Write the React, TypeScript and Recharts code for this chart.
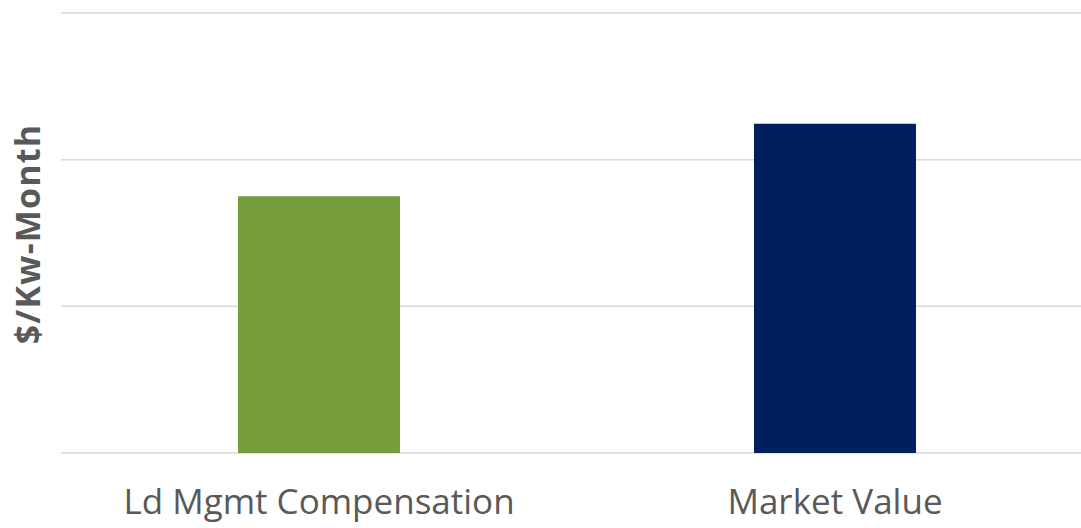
import React from "react";
import { BarChart, Bar, Cell, XAxis, YAxis, CartesianGrid, Label } from "recharts";

const categories = ["Ld Mgmt Compensation", "Market Value"];
const values = [1.75, 2.245];
const barColors = ["#769d3c", "#001f5c"];
const yTicks = [0, 1, 2, 3];
const yTitle = "$/Kw-Month";

const data = categories.map((name, i) => ({ name, value: values[i] }));

const renderYTitle = (props: any) => {
  const vb = props.viewBox || {};
  const cx = (vb.x || 0) + 27;
  const cy = (vb.y || 0) + (vb.height || 0) / 2 + 1;
  return (
    <text
      x={cx}
      y={cy}
      transform={`rotate(-90, ${cx}, ${cy})`}
      textAnchor="middle"
      dominantBaseline="central"
      fill="#595959"
      fontSize={34}
      fontWeight={700}
      fontFamily="Open Sans"
      letterSpacing={1.2}
    >
      {yTitle}
    </text>
  );
};

const App: React.FC = () => {
  return (
    <div
      style={{
        position: "absolute",
        left: 0,
        top: 0,
        width: 1081,
        height: 528,
        overflow: "hidden",
        background: "#fff",
      }}
    >
      <BarChart
        width={1100}
        height={528}
        data={data}
        margin={{ top: 13, right: 7, left: 0, bottom: 0 }}
        barCategoryGap="34.3%"
      >
        <CartesianGrid vertical={false} stroke="#d9d9d9" strokeWidth={1.5} />
        <XAxis
          dataKey="name"
          height={75}
          axisLine={false}
          tickLine={false}
          tickMargin={30}
          tick={{ fill: "#595959", fontSize: 35, fontFamily: "Open Sans" }}
        />
        <YAxis
          width={61}
          domain={[0, 3]}
          ticks={yTicks}
          tickFormatter={() => ""}
          axisLine={false}
          tickLine={false}
        >
          <Label content={renderYTitle} />
        </YAxis>
        <Bar dataKey="value" isAnimationActive={false}>
          {data.map((d, i) => (
            <Cell key={d.name} fill={barColors[i]} />
          ))}
        </Bar>
      </BarChart>
    </div>
  );
};

export default App;
